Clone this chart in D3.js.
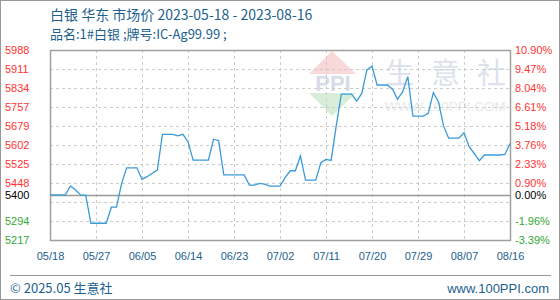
<!DOCTYPE html>
<html lang="zh">
<head>
<meta charset="UTF-8">
<title>白银 华东 市场价</title>
<script src="https://d3js.org/d3.v7.min.js"></script>
<style>
    body { margin: 0; background: #fff; }
    text { font-family: "Liberation Sans", Arial, sans-serif; }
    .cjk { font-family: "Noto Sans CJK SC", "Noto Sans", sans-serif; }
</style>
</head>
<body>
<script>
// data
const startDate = "2023-05-18";
const prices = [
    5400, 5400, 5400, 5400, 5436, 5420, 5400, 5398, 5285, 5285,
    5285, 5285, 5350, 5350, 5445, 5510, 5510, 5510, 5463, 5474,
    5488, 5501, 5646, 5646, 5646, 5640, 5646, 5616, 5541, 5541,
    5541, 5541, 5626, 5620, 5481, 5481, 5481, 5481, 5481, 5440,
    5440, 5447, 5444, 5436, 5436, 5436, 5470, 5498, 5498, 5558,
    5460, 5460, 5460, 5531, 5544, 5540, 5680, 5809, 5809, 5809,
    5781, 5812, 5907, 5923, 5846, 5846, 5846, 5829, 5788, 5819,
    5880, 5720, 5720, 5720, 5731, 5815, 5778, 5680, 5630, 5630,
    5630, 5652, 5596, 5568, 5539, 5562, 5562, 5562, 5562, 5564,
    5609
];
const xTickLabels = ["05/18", "05/27", "06/05", "06/14", "06/23", "07/02", "07/11", "07/20", "07/29", "08/07", "08/16"];
const yTickValues = [5988, 5911, 5834, 5757, 5679, 5602, 5525, 5448, 5400, 5294, 5217];
const pctLabels = ["10.90%", "9.47%", "8.04%", "6.61%", "5.18%", "3.76%", "2.33%", "0.90%", "0.00%", "-1.96%", "-3.39%"];
const gridValues = [5294, 5371, 5448, 5525, 5602, 5679, 5757, 5834, 5911];
const baseValue = 5400;
const wmChars = ["生", "意", "社"];

const width = 560, height = 300;
const plot = { left: 50, right: 510, top: 50, bottom: 240 };

const parse = d3.timeParse("%Y-%m-%d");
const start = parse(startDate);
const series = prices.map((v, i) => ({ date: d3.timeDay.offset(start, i), value: v }));
const tickDates = xTickLabels.map(s => parse("2023-" + s.replace("/", "-")));

const svg = d3.select("body").append("svg")
    .attr("width", width)
    .attr("height", height);

// outer frame
svg.append("rect")
    .attr("x", 0.5).attr("y", 0.5)
    .attr("width", width - 1).attr("height", height - 1)
    .attr("fill", "#fff").attr("stroke", "#999");

const x = d3.scaleTime()
    .domain([start, series[series.length - 1].date])
    .range([plot.left, plot.right]);
const y = d3.scaleLinear()
    .domain([5217, 5988])
    .range([plot.bottom, plot.top]);

// title
svg.append("text").attr("class", "cjk")
    .attr("x", 50).attr("y", 20)
    .attr("font-size", 14).attr("fill", "#1d5f8e")
    .text("白银 华东 市场价 2023-05-18 - 2023-08-16");
svg.append("text").attr("class", "cjk")
    .attr("x", 50).attr("y", 39)
    .attr("font-size", 13).attr("fill", "#1d5f8e")
    .text("品名:1#白银 ;牌号:IC-Ag99.99 ;");

// watermark
const wm = svg.append("g");
wm.append("polygon")
    .attr("points", "332,51 309,74 356,74")
    .attr("fill", "#f8d8d8");
wm.append("polygon")
    .attr("points", "309,93 356,93 332,116")
    .attr("fill", "#d8eed8");
wm.append("text")
    .attr("x", 333).attr("y", 91)
    .attr("text-anchor", "middle")
    .attr("font-family", "Liberation Serif, serif")
    .attr("font-size", 22).attr("font-weight", "bold")
    .attr("fill", "#d6dce8")
    .text("PPI");
wm.selectAll("text.wc")
    .data(wmChars)
    .enter().append("text")
    .attr("class", "wc cjk")
    .attr("x", (d, i) => 385 + i * 46)
    .attr("y", 84)
    .attr("font-size", 29)
    .attr("fill", "#dde2ec")
    .text(d => d);
wm.append("text")
    .attr("x", 385).attr("y", 111)
    .attr("font-size", 13.5)
    .attr("fill", "#e8e8e8")
    .text("WWW.100PPI.COM");

// grid
const grid = svg.append("g")
    .attr("stroke", "#cccccc")
    .attr("stroke-dasharray", "3,3");
grid.selectAll("line.h")
    .data(gridValues)
    .enter().append("line")
    .attr("class", "h")
    .attr("x1", plot.left).attr("x2", plot.right)
    .attr("y1", d => Math.round(y(d)) + 0.5)
    .attr("y2", d => Math.round(y(d)) + 0.5);
grid.selectAll("line.v")
    .data(tickDates.slice(1, -1))
    .enter().append("line")
    .attr("class", "v")
    .attr("y1", plot.top).attr("y2", plot.bottom)
    .attr("x1", d => Math.round(x(d)) + 0.5)
    .attr("x2", d => Math.round(x(d)) + 0.5);

// base line
svg.append("line")
    .attr("x1", plot.left).attr("x2", plot.right)
    .attr("y1", Math.round(y(baseValue)) + 0.5)
    .attr("y2", Math.round(y(baseValue)) + 0.5)
    .attr("stroke", "#999").attr("stroke-width", 1.5);

// plot border
svg.append("rect")
    .attr("x", plot.left + 0.5).attr("y", plot.top + 0.5)
    .attr("width", plot.right - plot.left).attr("height", plot.bottom - plot.top)
    .attr("fill", "none").attr("stroke", "#a0a0a0").attr("stroke-width", 1.5);

// price line
const line = d3.line()
    .x(d => x(d.date))
    .y(d => y(d.value));
svg.append("path")
    .datum(series)
    .attr("d", line)
    .attr("fill", "none")
    .attr("stroke", "#3a9ad9")
    .attr("stroke-width", 1.3);

// y labels
const colorFor = v => v > baseValue ? "#ff3333" : (v < baseValue ? "#33a833" : "#000");
svg.selectAll("text.yl")
    .data(yTickValues)
    .enter().append("text")
    .attr("class", "yl")
    .attr("x", 5)
    .attr("y", d => y(d))
    .attr("dy", "0.35em")
    .attr("font-size", 11)
    .attr("fill", colorFor)
    .text(d => d);
svg.selectAll("text.yr")
    .data(yTickValues)
    .enter().append("text")
    .attr("class", "yr")
    .attr("x", 515)
    .attr("y", d => y(d))
    .attr("dy", "0.35em")
    .attr("font-size", 11)
    .attr("fill", colorFor)
    .text((d, i) => pctLabels[i]);

// x labels
const xAxis = d3.axisBottom(x)
    .tickValues(tickDates)
    .tickFormat((d, i) => xTickLabels[i])
    .tickSize(0)
    .tickPadding(0);
const xg = svg.append("g")
    .attr("transform", `translate(0, 252)`)
    .call(xAxis);
xg.select(".domain").remove();
xg.selectAll("text")
    .attr("font-family", "Liberation Sans, Arial, sans-serif")
    .attr("font-size", 11)
    .attr("fill", "#1d5f8e");

// footer
svg.append("line")
    .attr("x1", 10).attr("x2", 551)
    .attr("y1", 275.5).attr("y2", 275.5)
    .attr("stroke", "#999");
svg.append("text").attr("class", "cjk")
    .attr("x", 10).attr("y", 293)
    .attr("font-size", 13).attr("fill", "#1d5f8e")
    .text("© 2025.05 生意社");
svg.append("text")
    .attr("x", 549).attr("y", 293)
    .attr("text-anchor", "end")
    .attr("font-size", 13).attr("fill", "#1d5f8e")
    .text("www.100PPI.com");
</script>
</body>
</html>
